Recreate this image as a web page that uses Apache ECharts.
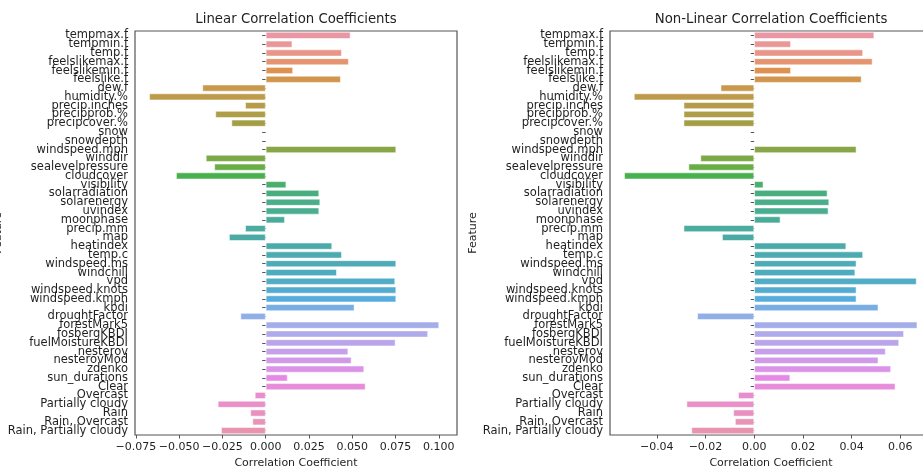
<!DOCTYPE html>
<html>
<head>
<meta charset="utf-8">
<script src="https://cdn.jsdelivr.net/npm/echarts@6/dist/echarts.min.js"></script>
<style>
  html, body { margin: 0; padding: 0; background: #ffffff; }
  #chart { width: 923px; height: 468px; }
</style>
</head>
<body>
<div id="chart"></div>
<script>
// Feature names, top to bottom
const features = [
  'tempmax.f', 'tempmin.f', 'temp.f', 'feelslikemax.f', 'feelslikemin.f', 'feelslike.f',
  'dew.f', 'humidity.%', 'precip.inches', 'precipprob.%', 'precipcover.%', 'snow',
  'snowdepth', 'windspeed.mph', 'winddir', 'sealevelpressure', 'cloudcover', 'visibility',
  'solarradiation', 'solarenergy', 'uvindex', 'moonphase', 'precip.mm', 'map',
  'heatindex', 'temp.c', 'windspeed.ms', 'windchill', 'vpd', 'windspeed.knots',
  'windspeed.kmph', 'kbdi', 'droughtFactor', 'forestMark5', 'fosbergKBDI', 'fuelMoistureKBDI',
  'nesterov', 'nesterovMod', 'zdenko', 'sun_durations', 'Clear', 'Overcast',
  'Partially cloudy', 'Rain', 'Rain, Overcast', 'Rain, Partially cloudy'
];

// Linear (Pearson) correlation of each feature with the target
const linearCoef = [
  0.0490, 0.0154, 0.0440, 0.0480, 0.0158, 0.0434,
  -0.0366, -0.0673, -0.0119, -0.0291, -0.0198, 0,
  0, 0.0754, -0.0346, -0.0297, -0.0518, 0.0119,
  0.0309, 0.0315, 0.0309, 0.0111, -0.0119, -0.0212,
  0.0384, 0.0440, 0.0754, 0.0411, 0.0748, 0.0754,
  0.0754, 0.0513, -0.0146, 0.1002, 0.0938, 0.0750,
  0.0477, 0.0496, 0.0569, 0.0127, 0.0577, -0.0063,
  -0.0277, -0.0089, -0.0077, -0.0258
];

// Non-linear (rank) correlation of each feature with the target
const nonLinearCoef = [
  0.0493, 0.0151, 0.0447, 0.0486, 0.0151, 0.0441,
  -0.0138, -0.0494, -0.0290, -0.0290, -0.0290, 0,
  0, 0.0420, -0.0221, -0.0270, -0.0534, 0.0038,
  0.0301, 0.0308, 0.0305, 0.0108, -0.0290, -0.0132,
  0.0378, 0.0447, 0.0420, 0.0415, 0.0667, 0.0420,
  0.0420, 0.0510, -0.0234, 0.0670, 0.0615, 0.0595,
  0.0540, 0.0510, 0.0562, 0.0148, 0.0580, -0.0066,
  -0.0278, -0.0086, -0.0079, -0.0258
];

// Tick labels of the two value axes
const linearTicks = [-0.075, -0.05, -0.025, 0, 0.025, 0.05, 0.075, 0.1];
const nonLinearTicks = [-0.04, -0.02, 0, 0.02, 0.04, 0.06];

// ---- HUSL palette (same maths as husl.py) ----
const M = [[3.2406, -1.5372, -0.4986], [-0.9689, 1.8758, 0.0415], [0.0557, -0.2040, 1.0570]];
const refU = 0.19784, refV = 0.46834, labE = 0.008856, labK = 903.3;
function maxChroma(L, H) {
  const hr = H * Math.PI / 180, sinH = Math.sin(hr), cosH = Math.cos(hr);
  const sub1 = Math.pow(L + 16, 3) / 1560896.0;
  const sub2 = sub1 > labE ? sub1 : L / labK;
  let result = Infinity;
  for (const [m1, m2, m3] of M) {
    const top = (0.99915 * m1 + 1.05122 * m2 + 1.14460 * m3) * sub2;
    const rb = 0.86330 * m3 - 0.17266 * m2;
    const lb = 0.12949 * m3 - 0.38848 * m1;
    const bottom = (rb * sinH + lb * cosH) * sub2;
    for (const t of [0, 1]) {
      const C = L * (top - 1.05122 * t) / (bottom + 0.17266 * sinH * t);
      if (C > 0 && C < result) result = C;
    }
  }
  return result;
}
function huslToRgb(h, s, l) {
  const C = maxChroma(l, h) / 100 * s;
  const hr = h * Math.PI / 180;
  const U = Math.cos(hr) * C, V = Math.sin(hr) * C;
  const Y = l > labK * labE ? Math.pow((l + 16) / 116, 3) : l / labK;
  const vU = U / (13 * l) + refU, vV = V / (13 * l) + refV;
  const X = -(9 * Y * vU) / ((vU - 4) * vV - vU * vV);
  const Z = (9 * Y - 15 * vV * Y - vV * X) / (3 * vV);
  return M.map(r => {
    const c = r[0] * X + r[1] * Y + r[2] * Z;
    const v = c <= 0.0031308 ? 12.92 * c : 1.055 * Math.pow(c, 1 / 2.4) - 0.055;
    return Math.min(1, Math.max(0, v));
  });
}
function desaturate(rgb, prop) {
  const [r, g, b] = rgb;
  const mx = Math.max(r, g, b), mn = Math.min(r, g, b);
  const l = (mx + mn) / 2;
  if (mx === mn) return rgb;
  const d = mx - mn;
  let s = l <= 0.5 ? d / (mx + mn) : d / (2 - mx - mn);
  let h;
  const rc = (mx - r) / d, gc = (mx - g) / d, bc = (mx - b) / d;
  if (r === mx) h = bc - gc; else if (g === mx) h = 2 + rc - bc; else h = 4 + gc - rc;
  h = ((h / 6) % 1 + 1) % 1;
  s *= prop;
  const m2 = l <= 0.5 ? l * (1 + s) : l + s - l * s;
  const m1 = 2 * l - m2;
  const v = (hh) => {
    hh = ((hh % 1) + 1) % 1;
    if (hh < 1 / 6) return m1 + (m2 - m1) * hh * 6;
    if (hh < 0.5) return m2;
    if (hh < 2 / 3) return m1 + (m2 - m1) * (2 / 3 - hh) * 6;
    return m1;
  };
  return [v(h + 1 / 3), v(h), v(h - 1 / 3)];
}
function palette(n) {
  const out = [];
  for (let i = 0; i < n; i++) {
    const h = ((i / n + 0.01) % 1) * 359;
    const rgb = desaturate(huslToRgb(h, 0.9 * 99, 0.7 * 99), 0.75);
    out.push('rgb(' + rgb.map(c => Math.round(c * 255)).join(',') + ')');
  }
  return out;
}
const colors = palette(features.length);

// ---- chart ----
const FONT = 'DejaVu Sans';
const TEXT = '#1f1f1f';
const SPINE = '#555555';

function fmt(digits) {
  return v => (v < 0 ? '\u2212' : '') + Math.abs(v).toFixed(digits);
}
function barData(values) {
  return values.map((v, i) => ({
    value: v,
    itemStyle: { color: colors[i], borderWidth: v === 0 ? 0 : 0.8 }
  }));
}
function valueAxis(gridIndex, min, max, ticks, digits) {
  return {
    type: 'value', gridIndex, min, max,
    splitLine: { show: false },
    axisLine: { show: false },
    axisTick: { show: true, length: 3.5, lineStyle: { color: SPINE, width: 1 }, customValues: ticks },
    axisLabel: { fontFamily: FONT, fontSize: 11, color: TEXT, margin: 7, customValues: ticks, formatter: fmt(digits) },
    name: 'Correlation Coefficient', nameLocation: 'middle', nameGap: 22.5,
    nameTextStyle: { fontFamily: FONT, fontSize: 11, color: TEXT }
  };
}
function catAxis(gridIndex, nameGap) {
  return {
    type: 'category', gridIndex, data: features, inverse: true,
    axisLine: { show: false },
    axisTick: { show: true, length: 3.5, alignWithLabel: true, lineStyle: { color: SPINE, width: 1 } },
    axisLabel: { interval: 0, fontFamily: FONT, fontSize: 11.5, color: TEXT, margin: 7, lineHeight: 11 },
    name: 'Feature', nameLocation: 'middle', nameGap,
    nameTextStyle: { fontFamily: FONT, fontSize: 11, color: TEXT }
  };
}
function barSeries(idx, values) {
  return {
    type: 'bar', xAxisIndex: idx, yAxisIndex: idx,
    data: barData(values),
    barCategoryGap: '20%',
    itemStyle: { borderColor: 'rgba(255,255,255,0.65)', borderWidth: 0.8 },
    silent: true, animation: false
  };
}

const gridBase = {
  top: 31, width: 322, height: 404,
  show: true, borderColor: SPINE, borderWidth: 1.2, backgroundColor: 'transparent',
  containLabel: false, outerBoundsMode: 'none'
};

const titleStyle = { fontFamily: FONT, fontSize: 13.3, fontWeight: 'normal', color: TEXT };

const chart = echarts.init(document.getElementById('chart'), null, { renderer: 'canvas' });
chart.setOption({
  backgroundColor: '#ffffff',
  animation: false,
  title: [
    { text: 'Linear Correlation Coefficients', left: 296, top: 13, padding: 0, textAlign: 'center', textStyle: titleStyle },
    { text: 'Non-Linear Correlation Coefficients', left: 771, top: 13, padding: 0, textAlign: 'center', textStyle: titleStyle }
  ],
  grid: [
    Object.assign({ left: 135 }, gridBase),
    Object.assign({ left: 610 }, gridBase)
  ],
  xAxis: [
    valueAxis(0, -0.0755, 0.1105, linearTicks, 3),
    valueAxis(1, -0.0592, 0.0730, nonLinearTicks, 2)
  ],
  yAxis: [catAxis(0, 123), catAxis(1, 123)],
  series: [barSeries(0, linearCoef), barSeries(1, nonLinearCoef)]
});
</script>
</body>
</html>
